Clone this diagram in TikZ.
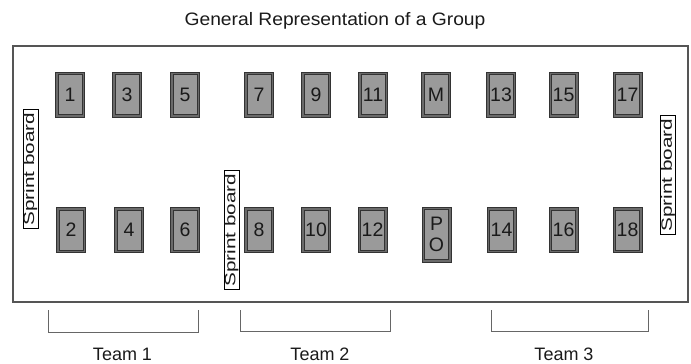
\documentclass[tikz,border=0pt]{standalone}
\usepackage{fontspec}
\setmainfont{Liberation Sans}
\definecolor{seatouter}{HTML}{6A6A6A}
\definecolor{seatinner}{HTML}{9A9A9A}
\definecolor{seatline}{HTML}{333333}
\definecolor{roomline}{HTML}{555555}
\definecolor{brackline}{HTML}{666666}
\definecolor{textcol}{HTML}{1A1A1A}
\begin{document}
\begin{tikzpicture}[x=1pt,y=-1pt,
  seat/.style={draw=seatline, fill=seatouter, line width=0.8pt,
    minimum width=29pt, minimum height=45pt, inner sep=0pt, text=textcol,
    font=\fontsize{19.5}{19.5}\selectfont,
    path picture={\draw[draw=seatline, fill=seatinner, line width=0.5pt]
      ([shift={(2.6pt,2.6pt)}]path picture bounding box.south west) rectangle
      ([shift={(-2.6pt,-2.6pt)}]path picture bounding box.north east);}},
  tallseat/.style={seat, minimum height=55pt, align=center,
    font=\fontsize{19.5}{21}\selectfont},
  board/.style={draw=black, fill=white, line width=0.6pt, rotate=90,
    inner xsep=3pt, inner ysep=0.6pt, text height=10.5pt, text depth=3pt,
    text=textcol, font=\fontsize{15}{15}\selectfont},
  teamlabel/.style={text=textcol, font=\fontsize{18}{18}\selectfont, inner sep=0pt},
  bracket/.style={draw=brackline, line width=0.9pt}
]
\useasboundingbox (0,0) rectangle (691,364);

% title
\node[teamlabel] (title) at (335,21) {\scalebox{1.07}[1]{General Representation of a Group}};

% room
\draw[draw=roomline, line width=1.2pt] (13,46) rectangle (688,302);

% top row
\node[seat] (s1)  at (70,94.5)  {1};
\node[seat] (s3)  at (127,94.5) {3};
\node[seat] (s5)  at (185,94.5) {5};
\node[seat] (s7)  at (259,94.5) {7};
\node[seat] (s9)  at (316,94.5) {9};
\node[seat] (s11) at (373,94.5) {11};
\node[seat] (sM)  at (436,94.5) {M};
\node[seat] (s13) at (501,94.5) {13};
\node[seat] (s15) at (563.5,94.5) {15};
\node[seat] (s17) at (627.5,94.5) {17};

% bottom row
\node[seat] (s2)  at (71,230)  {2};
\node[seat] (s4)  at (129,230) {4};
\node[seat] (s6)  at (185,230) {6};
\node[seat] (s8)  at (259,230) {8};
\node[seat] (s10) at (316,230) {10};
\node[seat] (s12) at (372.5,230) {12};
\node[tallseat] (sPO) at (436.5,234.5) {P\\O};
\node[seat] (s14) at (501.5,230) {14};
\node[seat] (s16) at (563.5,230) {16};
\node[seat] (s18) at (627.5,230) {18};

% sprint boards
\node[board] (bL) at (30.5,169) {\scalebox{1.38}[1]{Sprint board}};
\node[board] (bM) at (231.5,230) {\scalebox{1.38}[1]{Sprint board}};
\node[board] (bR) at (668,175) {\scalebox{1.38}[1]{Sprint board}};

% team brackets
\draw[bracket] (48,310) -- (48,332) -- (198,332) -- (198,310);
\draw[bracket] (240,310) -- (240,331) -- (390,331) -- (390,310);
\draw[bracket] (491,310) -- (491,331) -- (648,331) -- (648,310);

\node[teamlabel] (t1) at (122.5,354) {Team 1};
\node[teamlabel] (t2) at (320,354) {Team 2};
\node[teamlabel] (t3) at (564,354) {Team 3};
\end{tikzpicture}
\end{document}
